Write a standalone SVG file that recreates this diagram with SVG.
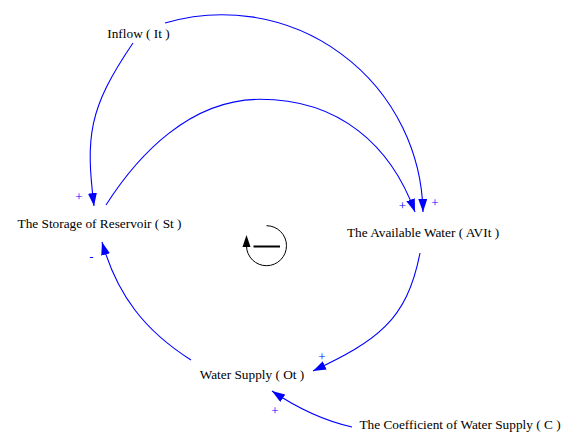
<svg xmlns="http://www.w3.org/2000/svg" width="568" height="433" viewBox="0 0 568 433">
<style>
.lbl{font-family:"Liberation Serif","Times New Roman",serif;font-size:13.3px;fill:#000;text-anchor:middle}
.pol{font-family:"Liberation Serif","Times New Roman",serif;font-size:13px;fill:#0000FF;text-anchor:middle}
.link{fill:none;stroke:#0000FF;stroke-width:1.1;marker-end:url(#ah)}
</style>
<defs>
<marker id="ah" markerUnits="userSpaceOnUse" markerWidth="13" markerHeight="9" viewBox="0 0 13 9" refX="13" refY="4.5" orient="auto">
<path d="M0,0 L13,4.5 L0,9 z" fill="#0000FF"/>
</marker>
</defs>
<rect width="568" height="433" fill="#fff"/>
<g id="connectors">
<path class="link" d="M165,23 A201,201 0 0 1 423,212"/>
<path class="link" d="M106,205 C138,155 190,99.3 260,99.3 C340,99.3 391,146 415,212"/>
<path class="link" d="M133,43 C88,109 85.6,137 94,206"/>
<path class="link" d="M420,253 C406.7,321.6 376,340.9 313,371"/>
<path class="link" d="M191,360 C144.5,330.6 117.1,294.8 102,242"/>
<path class="link" d="M352,427 Q312,418 272,391"/>
<text class="pol" x="79" y="200.5">+</text>
<text class="pol" x="402.5" y="209.5">+</text>
<text class="pol" x="435" y="206.5">+</text>
<text class="pol" x="91.5" y="261">-</text>
<text class="pol" x="322" y="361">+</text>
<text class="pol" x="275" y="415">+</text>
</g>
<g id="inflow"><text class="lbl" x="138.5" y="38">Inflow ( It )</text></g>
<g id="storage"><text class="lbl" x="99.5" y="227.5">The Storage of Reservoir ( St )</text></g>
<g id="available"><text class="lbl" x="423" y="237">The Available Water ( AVIt )</text></g>
<g id="supply"><text class="lbl" x="252" y="378.5">Water Supply ( Ot )</text></g>
<g id="coefficient"><text class="lbl" x="460" y="429">The Coefficient of Water Supply ( C )</text></g>
<g id="loop">
<path d="M266.5,225.7 A20,20 0 1 1 246.5,246" fill="none" stroke="#000" stroke-width="1"/>
<path d="M242.5,247 L250.5,247 L246.5,235 z" fill="#000"/>
<line x1="253.5" y1="246.5" x2="280" y2="246.5" stroke="#000" stroke-width="2"/>
</g>
</svg>
